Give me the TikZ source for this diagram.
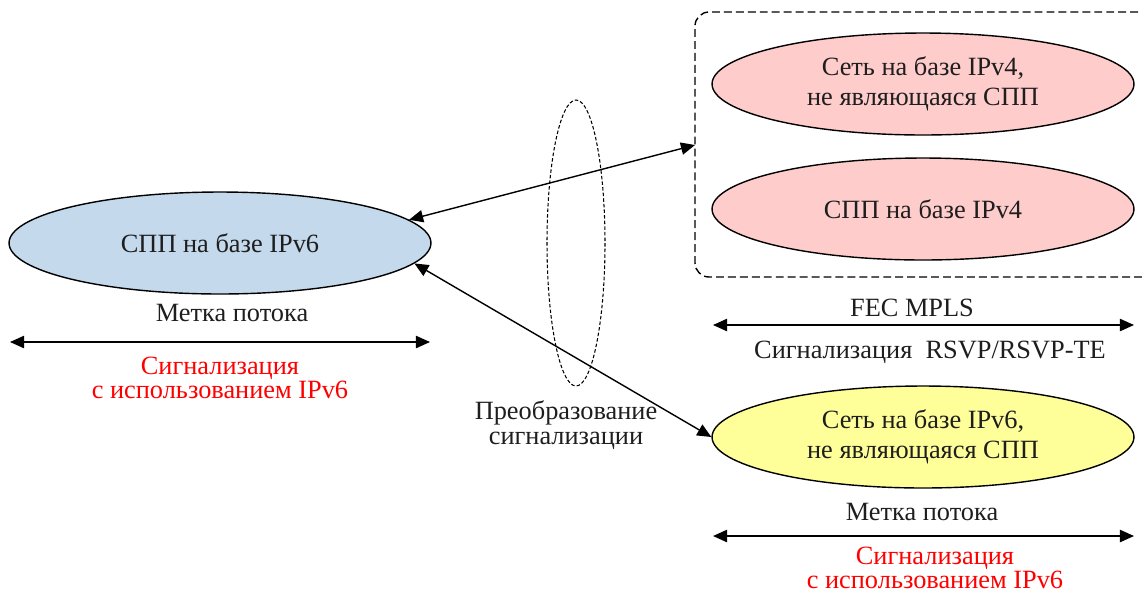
\documentclass[tikz,border=0pt]{standalone}
\usepackage{fontspec}
\setmainfont{Liberation Serif}
\usepackage{xcolor}
\usepackage{tikz}
\usetikzlibrary{shapes.geometric}
\usetikzlibrary{arrows.meta}
\usetikzlibrary{positioning}
\definecolor{netblue}{RGB}{197,217,236}
\definecolor{netpink}{RGB}{255,204,204}
\definecolor{netyellow}{RGB}{255,255,153}
\definecolor{txtgray}{RGB}{30,30,30}
\tikzset{
    netnode/.style = {ellipse, draw=black, thick, align=center, inner sep=0pt, minimum width=8.44cm, minimum height=2.04cm, text=txtgray},
    netblue/.style = {netnode, fill=netblue},
    netpink/.style = {netnode, fill=netpink},
    netyellow/.style = {netnode, fill=netyellow},
    lbl/.style = {align=center, inner sep=0pt, text=txtgray},
    lblred/.style = {align=center, inner sep=0pt, text=red, font=\fontsize{15}{12.5}\selectfont},
}
\begin{document}
\begin{tikzpicture}[
	x=0.02cm, y=-0.02cm,
	font=\fontsize{15}{17}\selectfont
]
\tikzset{
    edgea/.style = {{Triangle[length=8pt,width=7pt]}-{Triangle[length=8pt,width=7pt]}, thick},
    boxd/.style = {thick, dash pattern=on 4.5pt off 2.3pt, rounded corners=8pt},
    ringd/.style = {line width=0.6pt, dash pattern=on 2pt off 1.2pt},
}
\useasboundingbox (0,0) rectangle (1142,593);
% networks
\node[netblue] at (220,243) (lnet) {СПП на базе IPv6};
\node[netpink] at (923,84) (pnet) {Сеть на базе IPv4,\\не являющаяся СПП};
\node[netpink] at (923,209) (qnet) {СПП на базе IPv4};
\node[netyellow] at (923,437) (ynet) {Сеть на базе IPv6,\\не являющаяся СПП};
%
\draw[boxd] (1150,12) -| (695,277) -- (1150,277);
\coordinate (boxw) at (695,145);
\draw[ringd] (576,243) ellipse [x radius=29, y radius=143];
%
\draw[edgea] (boxw) -- (lnet.7);
\draw[edgea] (lnet.-6) -- (ynet.west);
% left side
\node[lbl] at (232,313) (lflow) {Метка потока};
\coordinate (la) at (10,342);
\coordinate (lb) at (430,342);
\draw[edgea] (la) -- (lb);
\node[lblred] at (220,378) (lsig) {Сигнализация\\с использованием IPv6};
% middle
\node[lbl, font=\fontsize{15}{14.3}\selectfont] at (566,425) (conv) {Преобразование\\сигнализации};
% right side
\node[lbl] at (912,308) (fec) {FEC MPLS};
\coordinate (ra) at (713,325);
\coordinate (rb) at (1134,325);
\draw[edgea] (ra) -- (rb);
\node[lbl] at (930,352) (rsvp) {Сигнализация\ \ RSVP/RSVP-TE};
%
\node[lbl] at (922,512) (rflow) {Метка потока};
\coordinate (rc) at (713,536);
\coordinate (rd) at (1134,536);
\draw[edgea] (rc) -- (rd);
\node[lblred] at (935,568) (rsig) {Сигнализация\\с использованием IPv6};
\end{tikzpicture}
\end{document}
